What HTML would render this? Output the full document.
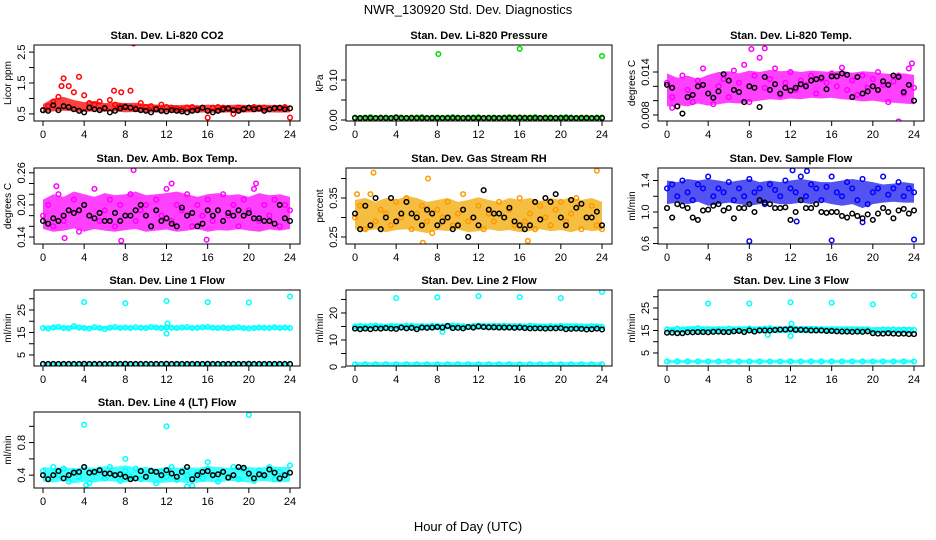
<!DOCTYPE html>
<html><head><meta charset="utf-8"><style>
html,body{margin:0;padding:0;background:#fff;}
svg{display:block;font-family:"Liberation Sans",Arial,sans-serif;}
</style></head><body>
<svg id="chart" width="936" height="540" viewBox="0 0 936 540">
<text x="468" y="14" text-anchor="middle" font-size="13">NWR_130920  Std. Dev. Diagnostics</text>
<text x="468" y="531" text-anchor="middle" font-size="13">Hour of Day (UTC)</text>
</svg>
<script>
const hours = [0,0.5,1,1.5,2,2.5,3,3.5,4,4.5,5,5.5,6,6.5,7,7.5,8,8.5,9,9.5,10,10.5,11,11.5,12,12.5,13,13.5,14,14.5,15,15.5,16,16.5,17,17.5,18,18.5,19,19.5,20,20.5,21,21.5,22,22.5,23,23.5,24];
const hoursH = [0,1,2,3,4,5,6,7,8,9,10,11,12,13,14,15,16,17,18,19,20,21,22,23,24];
const xTicks = [0,4,8,12,16,20,24];

// Panel 1: CO2
const co2Main = [0.62,0.75,0.9,1.05,1.65,1.4,1.2,1.7,1.1,0.85,0.8,0.9,0.7,0.95,0.8,0.75,0.75,1.25,0.7,0.85,0.72,0.75,0.68,0.8,0.72,0.7,0.68,0.65,0.7,0.72,0.68,0.7,0.38,0.7,0.72,0.7,0.65,0.5,0.7,0.68,0.7,0.72,0.68,0.7,0.65,0.7,0.68,0.72,0.38];
const co2Black = [0.62,0.6,0.78,0.62,0.75,0.72,0.65,0.6,0.55,0.7,0.65,0.62,0.68,0.55,0.6,0.68,0.72,0.7,0.65,0.62,0.6,0.55,0.65,0.6,0.58,0.62,0.6,0.58,0.55,0.6,0.62,0.7,0.6,0.55,0.6,0.65,0.68,0.62,0.6,0.65,0.7,0.65,0.68,0.6,0.65,0.68,0.7,0.65,0.68];
const co2Low = [0.55,0.58,0.6,0.58,0.56,0.58,0.57,0.58,0.55,0.56,0.55,0.54,0.55,0.53,0.55,0.54,0.55,0.53,0.55,0.54,0.55,0.56,0.55,0.54,0.55];
const co2High = [0.82,1.0,1.05,0.95,0.88,0.92,0.85,0.88,0.85,0.86,0.82,0.8,0.8,0.78,0.8,0.77,0.8,0.78,0.79,0.8,0.78,0.8,0.79,0.78,0.76];
const co2OutX = [8.8,6.9,7.6,1.8];
const co2OutY = [2.78,1.25,1.2,1.4];

// Panel 2: Pressure
const presMain = [0.006,0.005,0.006,0.007,0.005,0.006,0.006,0.005,0.007,0.006,0.005,0.006,0.006,0.007,0.005,0.006,0.006,0.005,0.006,0.007,0.006,0.005,0.006,0.006,0.007,0.005,0.006,0.006,0.005,0.006,0.007,0.006,0.005,0.006,0.006,0.007,0.005,0.006,0.006,0.005,0.006,0.007,0.006,0.005,0.006,0.006,0.005,0.006,0.006];
const presBlack = [0.005,0.005,0.005,0.005,0.005,0.005,0.005,0.005,0.006,0.005,0.005,0.005,0.005,0.005,0.005,0.005,0.005,0.005,0.005,0.005,0.005,0.005,0.005,0.005,0.005,0.005,0.005,0.005,0.005,0.005,0.005,0.005,0.006,0.005,0.005,0.005,0.005,0.005,0.005,0.005,0.005,0.005,0.005,0.005,0.005,0.005,0.005,0.005,0.005];
const presLow = [0.002,0.002,0.002,0.002,0.002,0.002,0.002,0.002,0.002,0.002,0.002,0.002,0.002,0.002,0.002,0.002,0.002,0.002,0.002,0.002,0.002,0.002,0.002,0.002,0.002];
const presHigh = [0.01,0.01,0.011,0.01,0.01,0.011,0.01,0.01,0.011,0.01,0.01,0.011,0.01,0.01,0.011,0.01,0.01,0.011,0.01,0.01,0.011,0.01,0.01,0.01,0.01];
const presOutX = [8.1,16,24];
const presOutY = [0.165,0.178,0.16];

// Panel 3: Li-820 Temp
const tempMain = [0.0125,0.0105,0.0092,0.0135,0.0115,0.0098,0.0128,0.0145,0.0110,0.0095,0.0120,0.0130,0.0105,0.0142,0.0125,0.0150,0.0098,0.0135,0.0160,0.0118,0.0130,0.0145,0.0108,0.0125,0.0140,0.0115,0.0128,0.0122,0.0135,0.0110,0.0130,0.0125,0.0138,0.0120,0.0146,0.0115,0.0128,0.0108,0.0135,0.0118,0.0130,0.0140,0.0122,0.0098,0.0127,0.0135,0.0110,0.0145,0.0118];
const tempBlack = [0.0122,0.0118,0.0092,0.0082,0.0105,0.0108,0.0120,0.0122,0.0110,0.0104,0.0113,0.0137,0.0128,0.0115,0.0112,0.0098,0.0120,0.0118,0.0091,0.0133,0.0115,0.0123,0.0110,0.0118,0.0114,0.0118,0.0123,0.0120,0.0128,0.0130,0.0132,0.0116,0.0134,0.0134,0.0138,0.0136,0.0105,0.0133,0.0110,0.0113,0.0120,0.0115,0.0127,0.0122,0.0135,0.0133,0.0112,0.0122,0.0100];
const tempLow = [0.0092,0.0094,0.0092,0.0096,0.0093,0.0095,0.0097,0.0096,0.0098,0.0100,0.0102,0.0101,0.0103,0.0102,0.0104,0.0103,0.0104,0.0102,0.0101,0.0099,0.0100,0.0098,0.0097,0.0096,0.0095];
const tempHigh = [0.0138,0.0132,0.0135,0.0130,0.0136,0.0140,0.0141,0.0138,0.0142,0.0140,0.0143,0.0141,0.0142,0.0140,0.0142,0.0141,0.0140,0.0142,0.0139,0.0141,0.0140,0.0138,0.0137,0.0138,0.0136];
const tempOutX = [8.2,9.5,22.5,23.8,0.5];
const tempOutY = [0.0172,0.0173,0.0071,0.0152,0.0090];

// Panel 4: Amb Box Temp
const ambMain = [0.18,0.2,0.16,0.22,0.17,0.19,0.21,0.15,0.2,0.18,0.23,0.17,0.19,0.21,0.16,0.2,0.18,0.22,0.17,0.19,0.2,0.16,0.21,0.18,0.23,0.17,0.2,0.19,0.22,0.16,0.2,0.18,0.21,0.17,0.19,0.22,0.18,0.2,0.16,0.21,0.19,0.23,0.17,0.2,0.18,0.21,0.16,0.2,0.19];
const ambBlack = [0.17,0.165,0.175,0.17,0.18,0.19,0.185,0.19,0.2,0.18,0.175,0.185,0.17,0.17,0.185,0.17,0.18,0.18,0.19,0.2,0.18,0.16,0.19,0.17,0.175,0.165,0.16,0.195,0.18,0.185,0.16,0.165,0.19,0.18,0.19,0.17,0.185,0.18,0.19,0.18,0.185,0.175,0.175,0.17,0.17,0.165,0.2,0.175,0.17];
const ambLow = [0.155,0.15,0.152,0.156,0.15,0.155,0.152,0.15,0.153,0.155,0.15,0.152,0.154,0.15,0.152,0.155,0.15,0.153,0.152,0.155,0.152,0.15,0.154,0.152,0.155];
const ambHigh = [0.21,0.22,0.215,0.225,0.22,0.215,0.222,0.218,0.22,0.225,0.218,0.22,0.222,0.225,0.22,0.215,0.22,0.222,0.218,0.22,0.215,0.222,0.218,0.22,0.215];
const ambOutX = [8.8,7.6,15.9,2.1,20.7,1.3,12.5];
const ambOutY = [0.265,0.133,0.135,0.138,0.24,0.235,0.24];

// Panel 5: Gas Stream RH
const rhMain = [0.3,0.33,0.27,0.36,0.29,0.32,0.31,0.28,0.34,0.3,0.35,0.27,0.31,0.33,0.29,0.26,0.32,0.3,0.34,0.28,0.31,0.36,0.29,0.3,0.33,0.27,0.31,0.29,0.34,0.3,0.32,0.28,0.35,0.29,0.31,0.27,0.33,0.3,0.28,0.32,0.34,0.29,0.31,0.35,0.27,0.3,0.33,0.28,0.27];
const rhBlack = [0.31,0.27,0.33,0.28,0.35,0.27,0.3,0.35,0.29,0.31,0.34,0.31,0.3,0.28,0.32,0.31,0.28,0.29,0.3,0.27,0.28,0.32,0.25,0.3,0.28,0.37,0.32,0.31,0.31,0.3,0.325,0.29,0.28,0.27,0.28,0.34,0.295,0.35,0.34,0.36,0.3,0.28,0.345,0.325,0.335,0.3,0.3,0.315,0.28];
const rhLow = [0.27,0.265,0.27,0.262,0.268,0.27,0.265,0.26,0.268,0.265,0.27,0.262,0.265,0.27,0.265,0.268,0.262,0.265,0.27,0.265,0.268,0.262,0.27,0.265,0.268];
const rhHigh = [0.345,0.35,0.34,0.35,0.345,0.355,0.35,0.34,0.345,0.35,0.34,0.345,0.352,0.345,0.34,0.35,0.345,0.35,0.342,0.35,0.345,0.352,0.345,0.35,0.34];
const rhOutX = [1.8,7.1,23.5,0.2,6.6,16.8];
const rhOutY = [0.415,0.4,0.42,0.36,0.235,0.24];

// Panel 6: Sample Flow
const sfMain = [1.3,1.35,1.2,1.4,1.25,1.15,1.35,1.3,1.45,1.2,1.3,1.25,1.38,1.15,1.3,1.2,1.42,1.25,1.3,1.1,1.35,1.28,1.2,1.4,1.3,1.25,1.45,1.2,1.35,1.3,1.15,1.32,1.45,1.25,1.2,1.38,1.3,1.15,1.42,1.1,1.25,1.3,1.45,1.22,1.3,1.38,1.2,1.3,1.25];
const sfBlack = [1.05,0.93,1.1,1.08,1.05,0.93,0.9,1.02,1.03,1.08,1.1,1.02,1.05,0.92,1.05,1.05,1.1,1.0,1.15,1.12,1.1,1.05,1.05,1.06,0.9,1.0,1.15,1.05,1.05,1.1,1.0,0.99,1.0,1.0,0.95,0.93,0.98,0.95,0.92,0.97,0.9,0.98,1.05,1.0,0.92,1.02,1.04,0.98,1.02];
const sfLow = [1.1,1.12,1.1,1.13,1.08,1.1,1.12,1.1,1.08,1.1,1.12,1.1,1.1,1.12,1.1,1.13,1.1,1.08,1.1,1.05,1.1,1.12,1.13,1.12,1.12];
const sfHigh = [1.4,1.38,1.42,1.4,1.42,1.4,1.38,1.4,1.42,1.38,1.4,1.38,1.4,1.42,1.4,1.38,1.38,1.4,1.42,1.4,1.38,1.35,1.36,1.38,1.36];
const sfOutX = [8,16,24,12.2,13.6,19,12.6];
const sfOutY = [0.63,0.64,0.65,1.53,1.52,0.87,0.88];

// Panel 7: Line 1 Flow
const l1Main = [17,16.8,17.2,17.5,17,16.9,17.8,17.2,17,16.8,17.3,17,16.5,17.1,17.4,17,17.2,17,17.3,17.1,17,17.4,17.2,17,17.3,17.1,17,17.2,17.4,17,17.1,17.3,17.5,17.1,17,17.2,16.9,17.1,17.3,17,16.8,17,17.2,17.1,17,17.3,17,17.2,17];
const l1Low = [1,1,1,1,1,1,1,1,1,1,1,1,1,1,1,1,1,1,1,1,1,1,1,1,1];
const l1Black = [1,1,1,1,1,1,1,1,1.1,1,1,1,1,1,1,1,1.1,1,1,1,1,1,1,1,1.1,1,1,1,1,1,1,1,1.1,1,1,1,1,1,1,1,1.1,1,1,1,1,1,1,1,1];
const l1BandLo = [16.2,16.3,16.2,16.4,16.2,16.3,16.2,16.4,16.3,16.2,16.3,16.4,16.2,16.3,16.2,16.3,16.4,16.2,16.3,16.2,16.3,16.2,16.4,16.3,16.2];
const l1BandHi = [17.8,17.9,18,18.2,17.9,17.8,18,17.9,18,17.8,18,17.9,18,17.9,17.8,18,17.9,17.8,18,17.9,17.8,17.9,18,17.9,17.8];
const l1BotLo = [0.3,0.3,0.3,0.3,0.3,0.3,0.3,0.3,0.3,0.3,0.3,0.3,0.3,0.3,0.3,0.3,0.3,0.3,0.3,0.3,0.3,0.3,0.3,0.3,0.3];
const l1BotHi = [1.7,1.7,1.7,1.7,1.7,1.7,1.7,1.7,1.7,1.7,1.7,1.7,1.7,1.7,1.7,1.7,1.7,1.7,1.7,1.7,1.7,1.7,1.7,1.7,1.7];
const l1OutX = [4,8,12,16,20,24,12.1,12];
const l1OutY = [28.5,28,29,28.5,28.3,31,19,14.5];

// Panel 8: Line 2 Flow
const l2Main = [15,15.2,14.8,15.1,15.3,15,14.9,15.2,15.1,15,15.3,15.2,14.8,15.1,15,15.3,15.2,15,15.1,15.4,15.2,15,14.9,15.2,15.3,15.1,15,15.2,15.1,15.3,15,15.1,15.2,15,15.3,15.1,15,14.9,15.1,15,15.2,15,14.9,15.1,15,14.8,15.1,15,14.9];
const l2Black = [14.2,14,14.2,14,14.3,14.2,14.4,14.2,14.1,14.6,14.3,14.5,14,14.6,14.5,14.6,14.8,14.6,15.2,14.4,14.5,14.3,14.8,14.6,15,14.8,14.7,14.7,14.6,14.6,14.6,14.5,14.6,14.4,14.3,14.3,14.3,14.2,14.3,14.3,14.4,14,14.1,14.2,14.1,13.9,14,14.2,13.9];
const l2Bottom = [1,1,1,1,1,1,1,1,1,1,1,1,1,1,1,1,1,1,1,1,1,1,1,1,1];
const l2BandLo = [13.8,13.9,14,13.8,13.9,13.8,13.7,13.9,13.8,13.9,14,13.8,13.9,13.8,13.9,14,13.8,13.9,13.8,13.9,13.8,13.7,13.8,13.9,13.8];
const l2BandHi = [16,16.1,16.2,16,16.1,16,16.2,16.1,16,16.2,16.1,16,16.3,16.2,16.3,16.2,16.1,16,16.1,16,16.1,16.2,16,16.1,16];
const l2BotLo = [0.4,0.4,0.4,0.4,0.4,0.4,0.4,0.4,0.4,0.4,0.4,0.4,0.4,0.4,0.4,0.4,0.4,0.4,0.4,0.4,0.4,0.4,0.4,0.4,0.4];
const l2BotHi = [1.8,1.8,1.8,1.8,1.8,1.8,1.8,1.8,1.8,1.8,1.8,1.8,1.8,1.8,1.8,1.8,1.8,1.8,1.8,1.8,1.8,1.8,1.8,1.8,1.8];
const l2OutX = [4,8,12,16,20,24,8.5];
const l2OutY = [25.5,25.8,26.2,25.9,25.5,27.8,13];

// Panel 9: Line 3 Flow
const l3Main = [15.5,15,15.8,15.2,15.4,15.6,16,15.3,15.5,15.2,15.6,15.4,15.8,15.3,15.5,15.6,15.9,15.4,15.5,15.8,16,15.6,15.5,15.7,16,15.8,15.6,15.5,15.7,15.6,15.5,15.4,15.6,15.5,15.3,15.5,15.6,15.4,15.3,15.5,15,15.2,15.4,15.3,15.5,15.2,15.4,15.3,15.2];
const l3Black = [14,14,13.8,13.8,14.2,14.2,14.3,14.3,14.2,14.4,14.5,14.3,14.3,14.6,14.8,14.3,15,14.5,15,15,15,15.2,15.4,15.4,15.6,15.3,15.3,15.2,15,15,15,14.8,14.8,14.6,14.5,14.5,14.4,14.5,14.4,14.6,13.8,13.6,13.6,13.8,13.6,13.5,13.6,13.4,13.4];
const l3Bottom = [1.2,1.2,1.2,1.2,1.2,1.2,1.2,1.2,1.2,1.2,1.2,1.2,1.2,1.2,1.2,1.2,1.2,1.2,1.2,1.2,1.2,1.2,1.2,1.2,1.2];
const l3BandLo = [13.8,13.8,13.8,13.8,13.8,13.8,13.8,13.8,13.8,13.8,13.8,13.8,13.8,13.8,13.8,13.8,13.8,13.8,13.8,13.8,13.6,13.6,13.6,13.6,13.6];
const l3BandHi = [16.5,16.5,16.8,17,16.8,16.8,16.8,16.8,16.8,16.8,16.8,16.8,17,17,17,16.8,16.8,16.8,16.8,16.8,16.5,16.5,16.5,16.5,16.5];
const l3BotLo = [0.4,0.4,0.4,0.4,0.4,0.4,0.4,0.4,0.4,0.4,0.4,0.4,0.4,0.4,0.4,0.4,0.4,0.4,0.4,0.4,0.4,0.4,0.4,0.4,0.4];
const l3BotHi = [2,2,2,2,2,2,2,2,2,2,2,2,2,2,2,2,2,2,2,2,2,2,2,2,2];
const l3OutX = [4,8,12,16,20,24,12,12.1,9.8];
const l3OutY = [27,27,27.5,27.3,26.6,30.5,12.5,18,13];

// Panel 10: Line 4 (LT) Flow
const l4Main = [0.45,0.35,0.5,0.4,0.48,0.32,0.45,0.38,0.5,0.3,0.42,0.47,0.36,0.5,0.4,0.33,0.45,0.38,0.48,0.35,0.42,0.46,0.3,0.44,0.38,0.5,0.34,0.45,0.4,0.27,0.43,0.36,0.48,0.4,0.32,0.45,0.38,0.5,0.35,0.47,0.4,0.33,0.46,0.38,0.5,0.35,0.44,0.4,0.52];
const l4Black = [0.4,0.35,0.4,0.45,0.36,0.4,0.43,0.44,0.5,0.43,0.44,0.46,0.42,0.42,0.4,0.41,0.38,0.35,0.36,0.45,0.38,0.45,0.44,0.4,0.46,0.42,0.38,0.44,0.5,0.35,0.4,0.44,0.45,0.4,0.41,0.44,0.37,0.4,0.5,0.49,0.42,0.36,0.41,0.4,0.47,0.43,0.36,0.4,0.43];
const l4BandLo = [0.32,0.31,0.33,0.3,0.32,0.31,0.33,0.32,0.31,0.33,0.32,0.3,0.31,0.32,0.3,0.31,0.32,0.31,0.33,0.32,0.31,0.33,0.32,0.31,0.32];
const l4BandHi = [0.5,0.49,0.5,0.48,0.5,0.49,0.51,0.5,0.52,0.49,0.5,0.48,0.5,0.49,0.5,0.49,0.51,0.5,0.49,0.5,0.5,0.49,0.51,0.5,0.5];
const l4OutX = [4,12,20,8,16,14,4.2];
const l4OutY = [1.02,1.0,1.14,0.6,0.56,0.26,0.28];

const NS = 'http://www.w3.org/2000/svg';
const svg = document.getElementById('chart');
function mk(tag, attrs, parent) {
  const e = document.createElementNS(NS, tag);
  for (const k in attrs) e.setAttribute(k, attrs[k]);
  (parent || svg).appendChild(e);
  return e;
}

const panels = [
  {key:'co2', title:'Stan. Dev. Li-820 CO2', ylab:'Licor ppm', col:0,row:0, ymin:0.27,ymax:2.73, ticks:[0.5,1,1.5,2,2.5], labels:['0.5','','1.5','','2.5'], band:'#ff0000',
   series:[{x:hours,y:co2Main,c:'#ff0000'},{x:hours,y:co2Black,c:'#000000'},{x:co2OutX,y:co2OutY,c:'#ff0000'}], bands:[[co2Low,co2High]]},
  {key:'pressure', title:'Stan. Dev. Li-820 Pressure', ylab:'kPa', col:1,row:0, ymin:-0.0025,ymax:0.1875, ticks:[0,0.05,0.1], labels:['0.00','','0.10'], band:'#00dd00',
   series:[{x:hours,y:presMain,c:'#00cc00'},{x:hours,y:presBlack,c:'#000000'},{x:presOutX,y:presOutY,c:'#00dd00'}], bands:[[presLow,presHigh]]},
  {key:'li820-temp', title:'Stan. Dev. Li-820 Temp.', ylab:'degrees C', col:2,row:0, ymin:0.00716,ymax:0.01777, ticks:[0.008,0.010,0.012,0.014], labels:['0.008','','','0.014'], band:'#ff00ff',
   series:[{x:hours,y:tempMain,c:'#ff00ff'},{x:tempOutX,y:tempOutY,c:'#ff00ff'},{x:hours,y:tempBlack,c:'#000000'}], bands:[[tempLow,tempHigh]]},
  {key:'amb-box-temp', title:'Stan. Dev. Amb. Box Temp.', ylab:'degrees C', col:0,row:1, ymin:0.127,ymax:0.269, ticks:[0.14,0.16,0.18,0.2,0.22,0.24,0.26], labels:['0.14','','','0.20','','','0.26'], band:'#ff00ff',
   series:[{x:hours,y:ambMain,c:'#ff00ff'},{x:ambOutX,y:ambOutY,c:'#ff00ff'},{x:hours,y:ambBlack,c:'#000000'}], bands:[[ambLow,ambHigh]]},
  {key:'gas-rh', title:'Stan. Dev. Gas Stream RH', ylab:'percent', col:1,row:1, ymin:0.232,ymax:0.427, ticks:[0.25,0.3,0.35,0.4], labels:['0.25','','0.35',''], band:'#f2a800',
   series:[{x:hours,y:rhMain,c:'#ff9900'},{x:rhOutX,y:rhOutY,c:'#ff9900'},{x:hours,y:rhBlack,c:'#000000'}], bands:[[rhLow,rhHigh]]},
  {key:'sample-flow', title:'Stan. Dev. Sample Flow', ylab:'ml/min', col:2,row:1, ymin:0.594,ymax:1.559, ticks:[0.6,0.8,1.0,1.2,1.4], labels:['0.6','','1.0','','1.4'], band:'#1a1aee',
   series:[{x:hours,y:sfMain,c:'#0000ff'},{x:sfOutX,y:sfOutY,c:'#0000ff'},{x:hours,y:sfBlack,c:'#000000'}], bands:[[sfLow,sfHigh]]},
  {key:'line1-flow', title:'Stan. Dev. Line 1 Flow', ylab:'ml/min', col:0,row:2, ymin:0.1,ymax:33.9, ticks:[5,10,15,20,25,30], labels:['5','','15','','25',''], band:'#00ffff',
   series:[{x:hours,y:l1Main,c:'#00ffff'},{x:l1OutX,y:l1OutY,c:'#00ffff'},{x:hoursH,y:l1Low,c:'#00ffff'},{x:hours,y:l1Black,c:'#000000'}], bands:[[l1BandLo,l1BandHi],[l1BotLo,l1BotHi]]},
  {key:'line2-flow', title:'Stan. Dev. Line 2 Flow', ylab:'ml/min', col:1,row:2, ymin:0.37,ymax:28.5, ticks:[0,5,10,15,20,25], labels:['0','','10','','20',''], band:'#00ffff',
   series:[{x:hours,y:l2Main,c:'#00ffff'},{x:l2OutX,y:l2OutY,c:'#00ffff'},{x:hoursH,y:l2Bottom,c:'#00ffff'},{x:hours,y:l2Black,c:'#000000'}], bands:[[l2BandLo,l2BandHi],[l2BotLo,l2BotHi]]},
  {key:'line3-flow', title:'Stan. Dev. Line 3 Flow', ylab:'ml/min', col:2,row:2, ymin:-0.8,ymax:33, ticks:[5,10,15,20,25,30], labels:['5','','15','','25',''], band:'#00ffff',
   series:[{x:hours,y:l3Main,c:'#00ffff'},{x:l3OutX,y:l3OutY,c:'#00ffff'},{x:hoursH,y:l3Bottom,c:'#00ffff'},{x:hours,y:l3Black,c:'#000000'}], bands:[[l3BandLo,l3BandHi],[l3BotLo,l3BotHi]]},
  {key:'line4-flow', title:'Stan. Dev. Line 4 (LT) Flow', ylab:'ml/min', col:0,row:3, ymin:0.242,ymax:1.176, ticks:[0.4,0.6,0.8,1.0], labels:['0.4','','0.8',''], band:'#00ffff',
   series:[{x:hours,y:l4Main,c:'#00ffff'},{x:l4OutX,y:l4OutY,c:'#00ffff'},{x:hours,y:l4Black,c:'#000000'}], bands:[[l4BandLo,l4BandHi]]}
];

const colLeft = [34, 346, 658];
const rowTop = [45, 168, 290, 412];
const W = 266, H = 76;

panels.forEach(p => {
  const L = colLeft[p.col], T = rowTop[p.row], B = T + H, R = L + W;
  const g = mk('g', {});
  
  
  const xs = v => L + 9 + (v / 24) * (W - 19);
  const ys = v => B - (v - p.ymin) / (p.ymax - p.ymin) * H;
  const clip = 'clip-' + p.key;
  const cp = mk('clipPath', {id: clip}, g);
  mk('rect', {x: L, y: T, width: W, height: H}, cp);
  const plot = mk('g', {'clip-path': 'url(#' + clip + ')'}, g);
  
  
  p.bands.forEach(bd => {
    const lo = bd[0], hi = bd[1];
    let pts = [];
    hoursH.forEach((h, i) => pts.push(xs(h) + ',' + ys(hi[i])));
    for (let i = hoursH.length - 1; i >= 0; i--) pts.push(xs(hoursH[i]) + ',' + ys(lo[i]));
    const poly = mk('polygon', {points: pts.join(' '), fill: p.band, 'fill-opacity': '0.75'}, plot);
    
    
  });
  p.series.forEach((s, si) => {
    const n = Math.min(s.x.length, s.y.length);
    for (let i = 0; i < n; i++) {
      const c = mk('circle', {cx: xs(s.x[i]), cy: ys(s.y[i]), r: 2.3, fill: 'none', stroke: s.c, 'stroke-width': 1.5}, plot);
      
      
    }
  });
  const box = mk('rect', {x: L, y: T, width: W, height: H, fill: 'none', stroke: '#000', 'stroke-width': 1}, g);
  
  
  const t = mk('text', {x: L + W / 2, y: T - 6, 'text-anchor': 'middle', 'font-size': 11, 'font-weight': 'bold'}, g);
  t.textContent = p.title;
  
  
  xTicks.forEach(v => {
    mk('line', {x1: xs(v), x2: xs(v), y1: B, y2: B + 5, stroke: '#000'}, g);
    const tl = mk('text', {x: xs(v), y: B + 17, 'text-anchor': 'middle', 'font-size': 11}, g);
    tl.textContent = v;
    
    
  });
  p.ticks.forEach((v, i) => {
    mk('line', {x1: L, x2: L - 5, y1: ys(v), y2: ys(v), stroke: '#000'}, g);
    if (p.labels[i]) {
      const yl = mk('text', {x: 0, y: 0, 'text-anchor': 'middle', 'font-size': 11, transform: 'translate(' + (L - 9) + ',' + ys(v) + ') rotate(-90)'}, g);
      yl.textContent = p.labels[i];
      
      
    }
  });
  const ylab = mk('text', {x: 0, y: 0, 'text-anchor': 'middle', 'font-size': 10, transform: 'translate(' + (L - 23) + ',' + (T + H / 2) + ') rotate(-90)'}, g);
  ylab.textContent = p.ylab;
  
  
});
</script>
</body></html>
